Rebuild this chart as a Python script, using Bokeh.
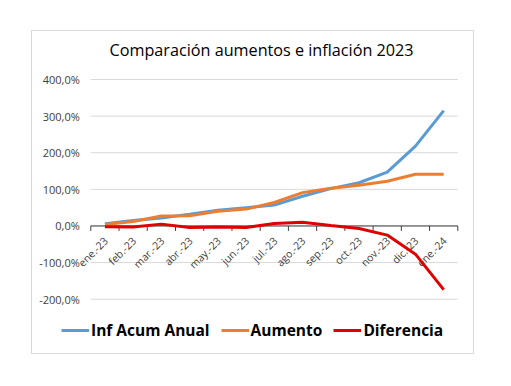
import math
from bokeh.plotting import figure
from bokeh.models import Range1d, Legend, LegendItem, Spacer
from bokeh.core.properties import value
from bokeh.layouts import row, column
from bokeh.embed import file_html
from bokeh.resources import INLINE

categories = ["ene.-23", "feb.-23", "mar.-23", "abr.-23", "may.-23", "jun.-23",
              "jul.-23", "ago.-23", "sep.-23", "oct.-23", "nov.-23", "dic.-23", "ene.-24"]
inf_acum_anual = [6, 15, 22, 32, 43, 50, 57, 81, 102, 118, 147, 218, 315]
aumento = [4, 12, 27, 28, 40, 46, 64, 91, 103, 111, 122, 141, 141]
diferencia = [-2, -3, 5, -4, -3, -4, 7, 10, 1, -7, -25, -77, -174]
y_ticks = [-200, -100, 0, 100, 200, 300, 400]
y_tick_labels = ["-200,0%", "-100,0%", "0,0%", "100,0%", "200,0%", "300,0%", "400,0%"]

FONT = "Open Sans"
AXIS_COLOR = "#404040"

n = len(categories)
xs = [i + 0.5 for i in range(n)]
bounds = list(range(n + 1))

# The frame covers the whole chart area (so nothing is clipped); the plot area
# spans categories 0..n horizontally and the tick range vertically.
p = figure(width=441, height=322, output_backend="svg", toolbar_location=None,
           x_range=Range1d(-2.065, n + 0.556), y_range=Range1d(-348.3, 438.2),
           min_border_left=0, min_border_right=0, min_border_top=34, min_border_bottom=0,
           styles={"outline": "1px solid #d9d9d9"})
p.outline_line_color = None
p.background_fill_color = "white"
p.border_fill_color = "white"
p.xaxis.visible = False
p.yaxis.visible = False
p.grid.visible = False

p.title.text = "Comparación aumentos e inflación 2023"
p.title.text_font = FONT
p.title.text_font_style = "normal"
p.title.text_font_size = "16.2px"
p.title.text_color = "#000000"
p.title.align = "left"
p.title.offset = 77
p.title.standoff = 9

# value gridlines and labels
p.segment(x0=[bounds[0]] * len(y_ticks), x1=[bounds[-1]] * len(y_ticks), y0=y_ticks, y1=y_ticks,
          line_color="#d9d9d9", line_width=1)
p.text(x=[bounds[0]] * len(y_ticks), y=y_ticks, text=y_tick_labels, x_offset=-11,
       text_align="right", text_baseline="middle",
       text_font=value(FONT), text_font_size="11px", text_color=AXIS_COLOR)

# category axis along the zero line
p.segment(x0=[bounds[0]], x1=[bounds[-1]], y0=[0], y1=[0], line_color=AXIS_COLOR, line_width=1)
p.ray(x=bounds, y=[0] * len(bounds), length=5, length_units="screen", angle=-math.pi / 2,
      line_color=AXIS_COLOR, line_width=1)
p.text(x=xs, y=[0] * n, text=categories, angle=math.pi / 4,
       text_align="right", text_baseline="middle", x_offset=1, y_offset=13,
       text_font=value(FONT), text_font_size="10.5px", text_color=AXIS_COLOR)

r1 = p.line(xs, inf_acum_anual, line_color="#5B9BD5", line_width=3)
r2 = p.line(xs, aumento, line_color="#ED7D31", line_width=3)
r3 = p.line(xs, diferencia, line_color="#E00000", line_width=3)

legend = Legend(items=[LegendItem(label="Inf Acum Anual", renderers=[r1]),
                       LegendItem(label="Aumento", renderers=[r2]),
                       LegendItem(label="Diferencia", renderers=[r3])],
                orientation="horizontal", location=(29, 12),
                glyph_width=28, glyph_height=16, label_standoff=2, spacing=11,
                padding=0, margin=0, border_line_color=None, background_fill_alpha=0)
legend.label_text_font = FONT
legend.label_text_font_style = "bold"
legend.label_text_font_size = "15.5px"
legend.label_text_color = "#000000"
p.add_layout(legend)

page = row(Spacer(width=32), column(Spacer(height=31), p))

open("out.html", "w").write(file_html(page, INLINE))
